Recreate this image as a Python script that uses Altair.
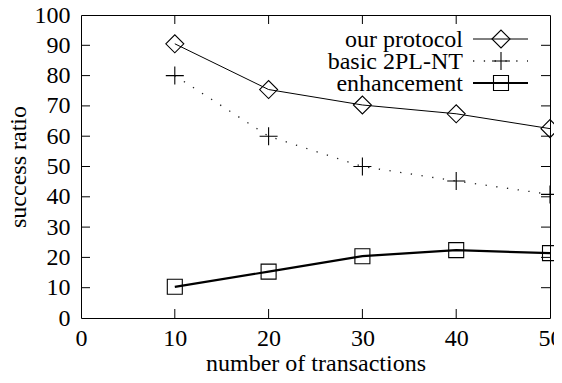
import altair as alt
import pandas as pd

# ---- data ----
transactions = [10, 20, 30, 40, 50]
our_protocol = [90.5, 75.4, 70.3, 67.4, 62.5]
basic_2pl_nt = [80.0, 60.0, 50.0, 45.2, 40.8]
enhancement = [10.3, 15.3, 20.4, 22.4, 21.4]
series_names = ["our protocol", "basic 2PL-NT", "enhancement"]

x_tick_values = [0, 10, 20, 30, 40, 50]
y_tick_values = [0, 10, 20, 30, 40, 50, 60, 70, 80, 90, 100]
x_inner_ticks = [10, 20, 30, 40]
y_inner_ticks = [10, 20, 30, 40, 50, 60, 70, 80, 90]

FONT = "Liberation Serif"
FS = 24
W, H = 469, 303
TICK = 9
PLUS = "M-1,0L1,0M0,-1L0,1"

rows = []
for name, vals in zip(series_names, [our_protocol, basic_2pl_nt, enhancement]):
    for xv, yv in zip(transactions, vals):
        rows.append({"series": name, "x": xv, "y": yv})
df = pd.DataFrame(rows)

xscale = alt.Scale(domain=[0, 50], nice=False, zero=False)
yscale = alt.Scale(domain=[0, 100], nice=False, zero=False)

x_axis = alt.Axis(
    values=x_tick_values, title="number of transactions", grid=False, domain=False,
    ticks=False, tickSize=0, labelPadding=8, labelFont=FONT, labelFontSize=FS,
    labelColor="black", titleFont=FONT, titleFontSize=FS, titleFontWeight="normal",
    titleColor="black", titleBaseline="alphabetic", titleY=52, labelFlush=False,
    labelOverlap=False)
y_axis = alt.Axis(
    values=y_tick_values, title="success ratio", grid=False, domain=False,
    ticks=False, tickSize=0, labelPadding=11, labelFont=FONT, labelFontSize=FS,
    labelColor="black", titleFont=FONT, titleFontSize=FS, titleFontWeight="normal",
    titleColor="black", titleBaseline="alphabetic", titleX=-56, titleY=H / 2,
    titleAngle=270, titleAlign="center", labelFlush=False, labelOverlap=False)

X = alt.X("x:Q", scale=xscale, axis=x_axis)
Y = alt.Y("y:Q", scale=yscale, axis=y_axis)

base = alt.Chart(df)

def sel(name):
    return base.transform_filter(alt.datum.series == name)

line_our = sel("our protocol").mark_line(color="black", strokeWidth=1).encode(x=X, y=Y)
line_basic = sel("basic 2PL-NT").mark_line(color="#222222", strokeWidth=1.3, strokeDash=[1.3, 9.5]).encode(x=X, y=Y)
line_enh = sel("enhancement").mark_line(color="black", strokeWidth=2.2).encode(x=X, y=Y)

pt_our = sel("our protocol").mark_point(shape="diamond", size=324, filled=False, color="black", strokeWidth=1.1, opacity=1).encode(x=X, y=Y)
pt_basic = sel("basic 2PL-NT").mark_point(shape=PLUS, size=324, filled=False, color="black", strokeWidth=1.1, opacity=1).encode(x=X, y=Y)
pt_enh = sel("enhancement").mark_point(shape="square", size=225, filled=False, color="black", strokeWidth=1.1, opacity=1).encode(x=X, y=Y)

# inward ticks (gnuplot style)
xt = pd.DataFrame({"x": x_inner_ticks})
yt = pd.DataFrame({"y": y_inner_ticks})
tick_bottom = alt.Chart(xt).mark_rule(color="black", strokeWidth=1).encode(x=X, y=alt.value(H), y2=alt.value(H - TICK))
tick_top = alt.Chart(xt).mark_rule(color="black", strokeWidth=1).encode(x=X, y=alt.value(0), y2=alt.value(TICK))
tick_left = alt.Chart(yt).mark_rule(color="black", strokeWidth=1).encode(y=Y, x=alt.value(0), x2=alt.value(TICK))
tick_right = alt.Chart(yt).mark_rule(color="black", strokeWidth=1).encode(y=Y, x=alt.value(W), x2=alt.value(W - TICK))

# legend (label left, sample right, as in gnuplot)
legend_styles = {
    "our protocol": dict(dash=None, width=1, shape="diamond", size=324),
    "basic 2PL-NT": dict(dash=[1.3, 9.5], width=1.3, shape=PLUS, size=324),
    "enhancement": dict(dash=None, width=2.2, shape="square", size=225),
}
anchor = alt.Chart(pd.DataFrame({"a": [0]}))
legend_layers = []
for i, name in enumerate(series_names):
    st = legend_styles[name]
    ly = 24 + 22 * i
    legend_layers.append(anchor.mark_text(text=name, align="right", baseline="middle", font=FONT,
                                          fontSize=FS, color="black", dy=1).encode(
        x=alt.value(382), y=alt.value(ly)))
    rule_kw = dict(color="black", strokeWidth=st["width"])
    if st["dash"]:
        rule_kw["strokeDash"] = st["dash"]
        rule_kw["color"] = "#222222"
    legend_layers.append(anchor.mark_rule(**rule_kw).encode(
        x=alt.value(392), x2=alt.value(447), y=alt.value(ly)))
    legend_layers.append(anchor.mark_point(shape=st["shape"], size=st["size"], filled=False, color="black",
                                           strokeWidth=1.1, opacity=1).encode(
        x=alt.value(420), y=alt.value(ly)))

chart = alt.layer(
    line_our, line_basic, line_enh, pt_our, pt_basic, pt_enh,
    tick_bottom, tick_top, tick_left, tick_right,
    *legend_layers,
).properties(
    width=W, height=H, autosize="none",
    padding={"left": 73, "top": 7, "right": 4, "bottom": 53},
    background="white",
).configure_view(stroke="black", strokeWidth=1)

chart.save("out.html", embed_options={"renderer": "svg", "actions": False})
